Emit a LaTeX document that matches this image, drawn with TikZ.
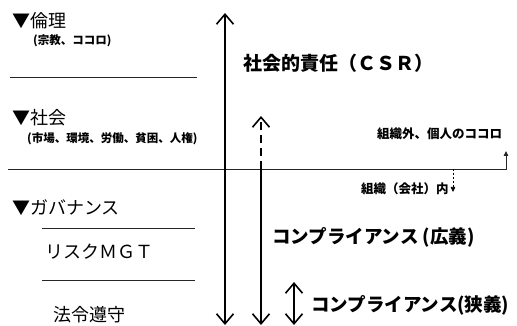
\documentclass[tikz,border=0pt]{standalone}
\usepackage{fontspec}
\newfontfamily\jp{Noto Sans CJK JP}
\usetikzlibrary{arrows.meta}
\begin{document}
\begin{tikzpicture}[x=1pt,y=-1pt,
  lbl/.style={font=\jp, inner sep=0pt, anchor=west},
  big/.style={lbl, font=\jp\fontsize{18}{20}\selectfont},
  bigb/.style={lbl, font=\jp\bfseries\fontsize{18.5}{20}\selectfont},
  csrstyle/.style={lbl, font=\jp\bfseries\fontsize{19}{20}\selectfont},
  small/.style={lbl, font=\jp\bfseries\fontsize{11.5}{13}\selectfont},
  mid/.style={lbl, font=\jp\bfseries\fontsize{12.5}{14}\selectfont},
  rule/.style={line width=0.9pt, black!85},
  barb/.tip={Straight Barb[length=10pt,width=17pt,line width=1.6pt]},
  longarrow/.style={line width=1.6pt, barb-barb},
  tinyhead/.tip={Triangle[length=5pt,width=4.5pt]},
]
\useasboundingbox (0,0) rectangle (517,326);

% left column labels
\node[big] (rinri) at (12,21) {▼倫理};
\node[small] (rinrisub) at (33,41) {(宗教、ココロ)};
\node[big] (shakai) at (12,118) {▼社会};
\node[small] (shakaisub) at (27,139) {(市場、環境、労働、貧困、人権)};
\node[big] (gov) at (12,208) {▼ガバナンス};
\node[big] (risk) at (45,252) {リスクＭＧＴ};
\node[big] (hourei) at (53,315) {法令遵守};

% separators
\coordinate (s1a) at (10,77);  \coordinate (s1b) at (197,77);
\coordinate (s2a) at (42,228); \coordinate (s2b) at (195,228);
\coordinate (s3a) at (42,280); \coordinate (s3b) at (195,280);
\draw[rule] (s1a) -- (s1b);
\draw[rule] (s2a) -- (s2b);
\draw[rule] (s3a) -- (s3b);

% organisation boundary line
\coordinate (L0) at (8,169);
\coordinate (L1) at (506,169);
\coordinate (L2) at (506,151);
\draw[rule, -tinyhead] (L0) -- (L1) -- (L2);
\coordinate (d0) at (453,169);
\coordinate (d1) at (453,192);
\draw[line width=0.7pt, dash pattern=on 2.5pt off 1.5pt, -tinyhead] (d0) -- (d1);

\node[mid] (outside) at (377,134) {組織外、個人のココロ};
\node[mid] (inside) at (361,189) {組織（会社）内};

% right labels
\node[csrstyle] (csr) at (243,63) {社会的責任（ＣＳＲ）};
\node[bigb] (compw) at (272,237) {コンプライアンス (広義)};
\node[bigb] (compn) at (311,305) {コンプライアンス(狭義)};

% arrows
\coordinate (a1t) at (225,13);  \coordinate (a1b) at (225,325);
\draw[longarrow] (a1t) -- (a1b);

\coordinate (a2t) at (261,116); \coordinate (a2m) at (261,169); \coordinate (a2b) at (261,325);
\draw[line width=1.6pt, dash pattern=on 8pt off 5pt, -barb] (a2m) -- (a2t);
\draw[line width=1.6pt, -barb] (a2m) -- (a2b);

\coordinate (a3t) at (294,282); \coordinate (a3b) at (294,325);
\draw[longarrow] (a3t) -- (a3b);
\end{tikzpicture}
\end{document}
